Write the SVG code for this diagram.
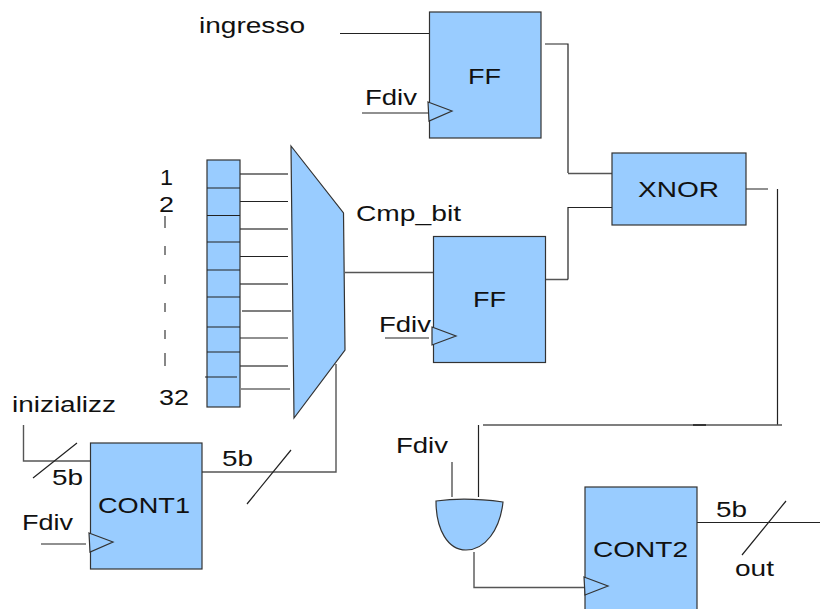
<svg xmlns="http://www.w3.org/2000/svg" width="820" height="609" viewBox="0 0 820 609">
<style>
.b{fill:#99ccff;stroke:#333;stroke-width:1.2}
.w{fill:none;stroke:#222;stroke-width:1.2}
.g{fill:none;stroke:#555;stroke-width:1.4}
text{font-family:"Liberation Sans",Arial,sans-serif;font-size:22px;fill:#111}
</style>
<rect width="820" height="609" fill="#fff"/>
<g id="connectors">
<path class="w" d="M340 33.500H429M545 44H568V173"/><path class="g" d="M568 173.500H612"/>
<path class="w" d="M362 113H429"/>
<path class="g" d="M345 272.500H433M546 279.500H568"/><path class="w" d="M568 279.500V207.500H612"/>
<path class="w" d="M385 338H429M746 189H768M777.500 189V425"/>
<path class="g" d="M483 425H782"/><path d="M693 425H706" stroke="#222" stroke-width="1.600"/>
<path class="w" d="M478.500 425V497"/><path class="g" d="M452 462V497M474 552V587.500H584"/>
<path class="w" d="M697 522.500H820M742 555L786 501"/>
<path class="g" d="M23.500 425V461H90M202 472H336V364"/>
<path class="w" d="M33 478L77 443M247 504L291 450M41 544H86"/>
<path class="g" d="M240 174H288"/><path class="w" d="M240 201.500H288"/><path class="g" d="M240 229H288"/><path class="w" d="M240 256.500H288"/><path class="g" d="M240 284H288M242 311H291"/><path class="w" d="M240 338H288"/><path class="g" d="M240 366H288"/><path class="w" d="M241 389H290"/>
<path class="g" d="M165 216V228M165 246V255M165 275V284M165 303V312M165 330V339M165 353V366"/>
</g>
<g id="register">
<rect class="b" x="207" y="160" width="33" height="247"/>
<path class="w" d="M207 188H240M207 215.500H240M207 242H240M207 270H240M207 297H240M207 327H240M207 352H240M205 377H237"/>
</g>
<g id="mux"><polygon class="b" points="291,146 343.500,213 345,350 294,418"/></g>
<g id="ff1"><rect class="b" x="429.500" y="12" width="111.500" height="126"/><polygon class="b" points="428,102 452,111 429,121"/><text x="468" y="84" textLength="33" lengthAdjust="spacingAndGlyphs">FF</text></g>
<g id="ff2"><rect class="b" x="433.500" y="236.500" width="112" height="126"/><polygon class="b" points="432,327 456,336 432,345"/><text x="473" y="307" textLength="33" lengthAdjust="spacingAndGlyphs">FF</text></g>
<g id="xnor"><rect class="b" x="612" y="153" width="134" height="72"/><text x="638" y="197" textLength="81" lengthAdjust="spacingAndGlyphs">XNOR</text></g>
<g id="cont1"><rect class="b" x="90.500" y="443" width="111.500" height="126"/><polygon class="b" points="89,533 113,542 90,552"/><text x="98" y="513" textLength="92" lengthAdjust="spacingAndGlyphs">CONT1</text></g>
<g id="cont2"><rect class="b" x="585" y="487" width="112" height="126"/><polygon class="b" points="584,577 608,586 585,595"/><text x="593" y="557" textLength="95" lengthAdjust="spacingAndGlyphs">CONT2</text></g>
<g id="and"><path class="b" d="M436 501Q466 497 503 502C500 530 485 550 466 550C448 550 436 530 436 501Z"/></g>
<g id="labels">
<text x="199" y="33" textLength="106" lengthAdjust="spacingAndGlyphs">ingresso</text>
<text x="365" y="105" textLength="52" lengthAdjust="spacingAndGlyphs">Fdiv</text>
<text x="356" y="221" textLength="105" lengthAdjust="spacingAndGlyphs">Cmp_bit</text>
<text x="379" y="332" textLength="52" lengthAdjust="spacingAndGlyphs">Fdiv</text>
<text x="160" y="185" textLength="13" lengthAdjust="spacingAndGlyphs">1</text>
<text x="159" y="212" textLength="15" lengthAdjust="spacingAndGlyphs">2</text>
<text x="159" y="405" textLength="30" lengthAdjust="spacingAndGlyphs">32</text>
<text x="12" y="412" textLength="104" lengthAdjust="spacingAndGlyphs">inizializz</text>
<text x="52" y="485" textLength="31" lengthAdjust="spacingAndGlyphs">5b</text>
<text x="222" y="466" textLength="31" lengthAdjust="spacingAndGlyphs">5b</text>
<text x="22" y="530" textLength="51" lengthAdjust="spacingAndGlyphs">Fdiv</text>
<text x="396" y="453" textLength="52" lengthAdjust="spacingAndGlyphs">Fdiv</text>
<text x="716" y="517" textLength="31" lengthAdjust="spacingAndGlyphs">5b</text>
<text x="735" y="576" textLength="39" lengthAdjust="spacingAndGlyphs">out</text>
</g>
</svg>
